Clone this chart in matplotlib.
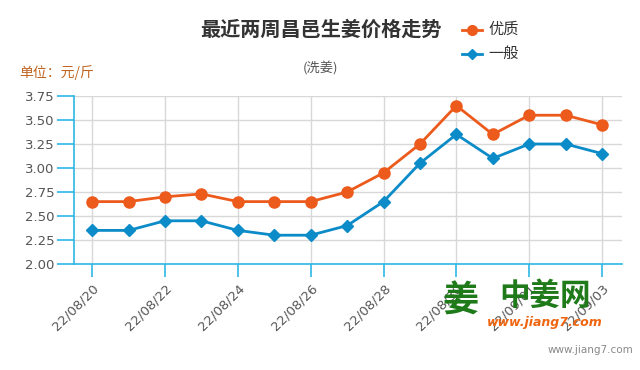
import matplotlib
matplotlib.use("Agg")
import matplotlib.pyplot as plt
import numpy as np

plt.rcParams['font.family'] = ['Noto Sans CJK SC', 'DejaVu Sans']

dates = ["22/08/20", "22/08/21", "22/08/22", "22/08/23", "22/08/24", "22/08/25",
         "22/08/26", "22/08/27", "22/08/28", "22/08/29", "22/08/30", "22/08/31",
         "22/09/01", "22/09/02", "22/09/03"]
premium = [2.65, 2.65, 2.70, 2.73, 2.65, 2.65, 2.65, 2.75, 2.95, 3.25, 3.65, 3.35, 3.55, 3.55, 3.45]
normal = [2.35, 2.35, 2.45, 2.45, 2.35, 2.30, 2.30, 2.40, 2.65, 3.05, 3.35, 3.10, 3.25, 3.25, 3.15]
y_ticks = [2.00, 2.25, 2.50, 2.75, 3.00, 3.25, 3.50, 3.75]

ORANGE = "#ec5a1c"
BLUE = "#0b8bc7"
AXIS = "#2db7e6"
GRID = "#d8d8d8"

fig = plt.figure(figsize=(6.4, 3.7), dpi=100)
ax = fig.add_axes([0.1156, 0.2865, 0.8564, 0.454])

x = np.arange(len(dates))
ax.plot(x, premium, color=ORANGE, lw=2, marker="o", ms=8, zorder=3)
ax.plot(x, normal, color=BLUE, lw=2, marker="D", ms=6, zorder=3)

ax.set_xlim(-0.5, 14.55)
ax.set_ylim(2.0, 3.75)
ax.set_yticks(y_ticks)
ax.set_yticklabels([f"{v:.2f}" for v in y_ticks], color="#555555", fontsize=9.5,
                   family="DejaVu Sans")
tick_pos = x[::2]
ax.set_xticks(tick_pos)
ax.set_xticklabels(dates[::2], rotation=45, ha="right", rotation_mode="anchor",
                   color="#555555", fontsize=9.5, family="DejaVu Sans")

ax.grid(True, color=GRID, lw=1)
ax.set_axisbelow(True)
for s in ["top", "right"]:
    ax.spines[s].set_visible(False)
ax.spines["left"].set_color(AXIS)
ax.spines["bottom"].set_color(AXIS)
ax.spines["left"].set_linewidth(1.2)
ax.spines["bottom"].set_linewidth(1.2)
ax.tick_params(axis="y", colors=AXIS, length=12, width=1.2, labelcolor="#555555", pad=2)
ax.tick_params(axis="x", colors=AXIS, length=9, width=1.2, labelcolor="#555555", pad=4)

# title, subtitle, unit
fig.text(0.502, 0.92, "最近两周昌邑生姜价格走势", ha="center", va="center",
         fontsize=14.5, fontweight="bold", color="#333333")
fig.text(0.5, 0.815, "(洗姜)", ha="center", va="center", fontsize=9.5, color="#555555")
fig.text(0.03, 0.805, "单位：元/斤", ha="left", va="center", fontsize=10, color="#c0651f")

# legend
for yy, col, mk, ms, lab in [(0.92, ORANGE, "o", 7, "优质"), (0.855, BLUE, "D", 5, "一般")]:
    fig.add_artist(plt.Line2D([0.722, 0.753], [yy, yy], color=col, lw=2,
                              transform=fig.transFigure))
    fig.add_artist(plt.Line2D([0.7375], [yy], color=col, marker=mk, ms=ms,
                              transform=fig.transFigure))
    fig.text(0.763, yy, lab, ha="left", va="center", fontsize=11, color="#333333")

# watermark
fig.text(0.72, 0.185, "姜", ha="center", va="center", fontsize=26, fontweight="bold",
         color="#1f7a1a")
fig.text(0.852, 0.2, "中姜网", ha="center", va="center", fontsize=22, fontweight="bold",
         color="#1f7a1a")
fig.text(0.852, 0.128, "www.jiang7.com", ha="center", va="center", fontsize=9,
         fontweight="bold", style="italic", color="#f0650f", family="DejaVu Sans")
fig.text(0.99, 0.055, "www.jiang7.com", ha="right", va="center", fontsize=7.5,
         color="#888888", family="DejaVu Sans")

fig.savefig("out.png", dpi=100)
